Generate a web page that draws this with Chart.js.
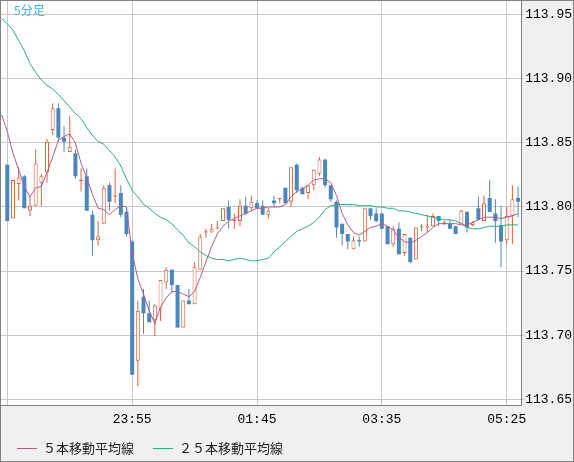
<!DOCTYPE html>
<html>
<head>
<meta charset="utf-8">
<script src="https://cdn.jsdelivr.net/npm/chart.js@4.4.1/dist/chart.umd.min.js"></script>
<style>
  body { margin: 0; background: #fff; }
  #wrap { position: relative; width: 574px; height: 462px; box-sizing: border-box; border: 1px solid #808080; background: #f0f0f0; }
  #chart { position: absolute; left: 0; top: 0; }
  #legend { position: absolute; left: 16px; top: 439px; display: flex; align-items: center; font: 13px/16px "Noto Sans CJK JP"; color: #222; }
  #legend .item { display: flex; align-items: center; margin-right: 19px; }
  #legend .swatch { width: 20px; height: 1px; margin-right: 6px; }
</style>
</head>
<body>
<div id="wrap">
  <canvas id="chart" width="572" height="460"></canvas>
  <div id="legend"></div>
</div>
<script>
// 5 minute candles, index 0 = 22:05
const opens = [113.833,113.791,113.818,113.824,113.797,113.801,113.819,113.827,113.860,113.877,
  113.854,113.843,113.842,113.820,113.824,113.794,113.774,113.787,113.817,113.808,
  113.811,113.796,113.773,113.680,113.730,113.717,113.712,113.720,113.741,113.751,
  113.739,113.706,113.727,113.724,113.751,113.780,113.780,113.783,113.789,113.800,
  113.789,113.789,113.801,113.799,113.803,113.801,113.794,113.805,113.806,113.815,
  113.804,113.833,113.815,113.811,113.817,113.826,113.837,113.817,113.804,113.787,
  113.779,113.767,113.774,113.773,113.799,113.795,113.795,113.785,113.771,113.783,
  113.764,113.776,113.759,113.784,113.784,113.785,113.793,113.787,113.787,113.785,
  113.787,113.796,113.786,113.799,113.789,113.807,113.795,113.786,113.774,113.793,
  113.807];
const highs = [113.833,113.821,113.831,113.825,113.808,113.845,113.826,113.853,113.881,113.881,
  113.863,113.871,113.845,113.830,113.830,113.797,113.789,113.817,113.819,113.830,
  113.817,113.799,113.774,113.727,113.736,113.727,113.724,113.743,113.753,113.751,
  113.739,113.727,113.736,113.757,113.779,113.783,113.787,113.789,113.799,113.805,
  113.795,113.806,113.808,113.809,113.805,113.805,113.799,113.809,113.807,113.815,
  113.831,113.834,113.816,113.817,113.829,113.839,113.837,113.817,113.805,113.787,
  113.779,113.777,113.777,113.799,113.799,113.799,113.795,113.785,113.785,113.788,
  113.779,113.776,113.784,113.787,113.794,113.795,113.793,113.789,113.790,113.785,
  113.798,113.797,113.789,113.808,113.809,113.821,113.806,113.801,113.800,113.817,
  113.816];
const lows = [113.789,113.791,113.805,113.799,113.793,113.801,113.801,113.819,113.856,113.851,
  113.843,113.843,113.822,113.812,113.797,113.762,113.770,113.787,113.797,113.803,
  113.792,113.777,113.669,113.660,113.701,113.710,113.699,113.711,113.736,113.733,
  113.706,113.706,113.724,113.724,113.751,113.776,113.780,113.783,113.789,113.783,
  113.783,113.785,113.794,113.797,113.799,113.794,113.791,113.800,113.803,113.803,
  113.800,113.811,113.810,113.806,113.813,113.824,113.815,113.804,113.776,113.770,
  113.767,113.767,113.769,113.773,113.790,113.788,113.783,113.771,113.769,113.763,
  113.762,113.756,113.759,113.781,113.780,113.785,113.785,113.786,113.783,113.779,
  113.787,113.780,113.785,113.790,113.789,113.796,113.772,113.753,113.771,113.771,
  113.792];
const closes = [113.789,113.821,113.823,113.799,113.801,113.834,113.824,113.851,113.877,113.854,
  113.851,113.847,113.824,113.821,113.797,113.774,113.777,113.815,113.804,113.809,
  113.794,113.779,113.669,113.719,113.717,113.710,113.723,113.743,113.751,113.739,
  113.706,113.727,113.724,113.753,113.777,113.781,113.783,113.784,113.799,113.790,
  113.790,113.801,113.795,113.804,113.799,113.794,113.797,113.803,113.807,113.803,
  113.831,113.813,113.810,113.817,113.829,113.837,113.817,113.806,113.784,113.779,
  113.773,113.774,113.773,113.799,113.793,113.789,113.783,113.771,113.783,113.763,
  113.779,113.757,113.784,113.785,113.785,113.793,113.789,113.788,113.783,113.779,
  113.797,113.784,113.788,113.790,113.803,113.796,113.789,113.773,113.793,113.806,
  113.804];

// moving averages, first value sits one bar before index 0
const maStart = -1;
const ma5 = [113.872,
  113.859,113.842,113.829,113.816,113.808,113.815,113.816,113.827,113.839,113.852,
  113.855,113.857,113.850,113.834,113.823,113.810,113.799,113.798,113.794,113.798,
  113.801,113.800,113.764,113.744,113.732,113.719,113.709,113.722,113.729,113.734,
  113.734,113.732,113.730,113.734,113.745,113.757,113.769,113.779,113.785,113.789,
  113.791,113.793,113.795,113.797,113.799,113.799,113.800,113.800,113.800,113.802,
  113.808,113.812,113.814,113.817,113.821,113.822,113.822,113.819,113.809,113.795,
  113.786,113.780,113.778,113.781,113.784,113.785,113.787,113.785,113.782,113.776,
  113.773,113.772,113.774,113.777,113.780,113.784,113.787,113.787,113.787,113.787,
  113.786,113.786,113.788,113.790,113.792,113.792,113.792,113.791,113.792,113.793,
  113.795];
const ma25 = [113.947,
  113.943,113.938,113.930,113.922,113.912,113.905,113.899,113.895,113.892,113.888,
  113.883,113.878,113.873,113.869,113.862,113.856,113.851,113.849,113.844,113.839,
  113.832,113.822,113.813,113.808,113.802,113.799,113.795,113.792,113.790,113.787,
  113.782,113.778,113.772,113.769,113.765,113.762,113.760,113.759,113.759,113.758,
  113.759,113.760,113.759,113.758,113.758,113.759,113.760,113.765,113.769,113.773,
  113.777,113.781,113.783,113.785,113.788,113.792,113.798,113.801,113.802,113.802,
  113.802,113.802,113.801,113.801,113.801,113.800,113.800,113.799,113.799,113.797,
  113.797,113.796,113.795,113.794,113.793,113.792,113.791,113.790,113.790,113.789,
  113.787,113.784,113.783,113.783,113.784,113.785,113.785,113.785,113.786,113.786,
  113.786];

const tickIdx = [0, 22, 44, 66, 88];
const tickLabels = ['', '23:55', '01:45', '03:35', '05:25'];
const yTicks = [113.65, 113.70, 113.75, 113.80, 113.85, 113.90, 113.95];
const periodLabel = '5分足';
const seriesNames = ['５本移動平均線', '２５本移動平均線'];

const UP = '#d9633f', DOWN = '#4a87bf';
const C5 = '#b05c8c', C25 = '#2aaf77';
const monoFont = { family: 'Liberation Mono', size: 13 };

const isUp = closes.map((c, i) => c >= opens[i]);
const wicks = opens.map((o, i) => ({ x: i, y: [lows[i], highs[i]] }));
const bodies = opens.map((o, i) => ({ x: i, y: [o, closes[i]] }));

const plotBg = {
  id: 'plotBg',
  beforeDraw(chart) {
    const { ctx, chartArea: a } = chart;
    ctx.save();
    ctx.fillStyle = '#ffffff';
    ctx.fillRect(a.left, a.top, a.right - a.left, a.bottom - a.top);
    ctx.restore();
  },
  afterDraw(chart) {
    const { ctx, chartArea: a } = chart;
    ctx.save();
    ctx.font = '12px "Noto Sans CJK JP"';
    ctx.fillStyle = '#3fb2ea';
    ctx.textBaseline = 'middle';
    ctx.fillText(periodLabel, a.left + 13, a.top + 9);
    ctx.restore();
  }
};

const chart = new Chart(document.getElementById('chart'), {
  type: 'bar',
  data: {
    datasets: [
      { type: 'line', label: seriesNames[0], data: ma5.map((v, k) => ({ x: k + maStart, y: v })),
        borderColor: C5, borderWidth: 1, pointRadius: 0, tension: 0, fill: false, order: 0 },
      { type: 'line', label: seriesNames[1], data: ma25.map((v, k) => ({ x: k + maStart, y: v })),
        borderColor: C25, borderWidth: 1, pointRadius: 0, tension: 0, fill: false, order: 0 },
      { label: 'body', data: bodies, grouped: false, barThickness: 4, minBarLength: 1,
        backgroundColor: isUp.map(u => u ? '#ffffff' : DOWN),
        borderColor: isUp.map(u => u ? UP : DOWN),
        borderWidth: isUp.map(u => u ? 1 : 0),
        borderSkipped: false, inflateAmount: 0, order: 1 },
      { label: 'wick', data: wicks, grouped: false, barThickness: 1,
        backgroundColor: isUp.map(u => u ? UP : DOWN),
        borderWidth: 0, inflateAmount: 0, order: 2 }
    ]
  },
  options: {
    responsive: false,
    animation: false,
    devicePixelRatio: 1,
    layout: { padding: { left: 0, top: 0, right: 0, bottom: 28 } },
    plugins: { legend: { display: false }, tooltip: { enabled: false } },
    scales: {
      x: {
        type: 'linear', min: -1.11, max: 90.55, offset: false,
        afterBuildTicks: s => { s.ticks = tickIdx.map(v => ({ value: v })); },
        afterFit: s => { s.paddingLeft = 0; s.paddingRight = 0; },
        ticks: { autoSkip: false, maxRotation: 0, padding: 6, font: monoFont, color: '#000',
          callback: (v, i) => tickLabels[i] },
        grid: { color: '#c8c8c8', drawTicks: false, offset: false },
        border: { color: '#808080' }
      },
      y: {
        position: 'right', min: 113.6451, max: 113.9608,
        afterBuildTicks: s => { s.ticks = yTicks.map(v => ({ value: v })); },
        afterFit: s => { s.paddingTop = 0; s.paddingBottom = 0; },
        ticks: { padding: 1, font: monoFont, color: '#000', callback: v => v.toFixed(2) },
        grid: { color: '#c8c8c8', tickLength: 3 },
        border: { color: '#808080' }
      }
    }
  },
  plugins: [plotBg]
});

// html legend for the two moving averages
const legend = document.getElementById('legend');
chart.data.datasets.filter(d => d.type === 'line').forEach(d => {
  const item = document.createElement('div');
  item.className = 'item';
  const sw = document.createElement('span');
  sw.className = 'swatch';
  sw.style.background = d.borderColor;
  const tx = document.createElement('span');
  tx.textContent = d.label;
  item.appendChild(sw);
  item.appendChild(tx);
  legend.appendChild(item);
});
</script>
</body>
</html>
